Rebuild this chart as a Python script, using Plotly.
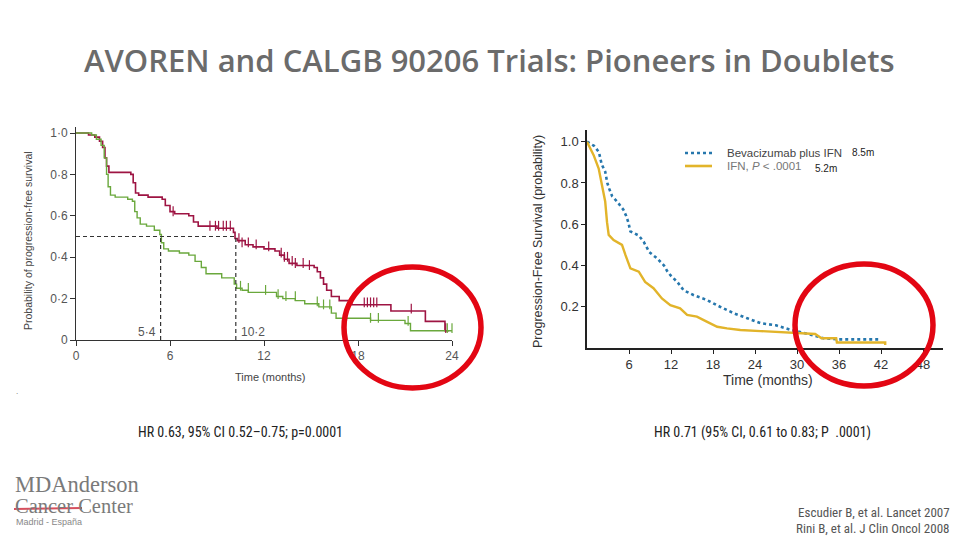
import plotly.graph_objects as go

# page body has an 8px default margin: the figure is sized/placed to fill the 960x540 window
OFF = 8
W, H = 960 - OFF, 540 - OFF
def px(x): return (x - OFF) / W
def py(y): return 1 - (y - OFF) / H

# ---------------- Data: AVOREN (left) ----------------
bev_avoren_t = [0, 0.8, 1.2, 1.5, 1.7, 1.85, 1.95, 2.1, 3.5, 3.65, 3.8, 4.0, 4.6, 5.5, 5.7, 6.0, 6.3, 7.2, 7.5,
                7.8, 9.0, 10.05, 10.15, 10.3, 10.8, 11.3, 12.0, 12.7, 13.0, 13.3, 13.6, 14.1, 15.2, 15.4, 15.6,
                15.8, 16.0, 16.3, 16.8, 17.6, 20.1, 22.3, 23.55, 23.8]
bev_avoren_p = [1.0, 0.99, 0.98, 0.96, 0.93, 0.88, 0.84, 0.81, 0.80, 0.76, 0.71, 0.70, 0.69, 0.68, 0.65, 0.62, 0.61,
                0.60, 0.57, 0.55, 0.54, 0.52, 0.49, 0.48, 0.46, 0.45, 0.44, 0.43, 0.41, 0.39, 0.37, 0.36, 0.35,
                0.33, 0.30, 0.27, 0.24, 0.21, 0.19, 0.17, 0.14, 0.09, 0.045, 0.045]
ifn_avoren_t = [0, 1.0, 1.3, 1.6, 1.8, 1.95, 2.05, 2.2, 2.5, 3.3, 3.6, 3.75, 3.9, 4.1, 4.5, 5.0, 5.35, 5.45, 5.6,
                5.9, 6.6, 7.2, 7.6, 8.0, 8.3, 9.3, 10.1, 10.25, 10.6, 11.0, 12.8, 13.2, 14.0, 14.6, 15.5, 16.3,
                16.6, 18.8, 21.0, 21.35, 24.0]
ifn_avoren_p = [1.0, 0.99, 0.97, 0.94, 0.88, 0.80, 0.74, 0.70, 0.69, 0.68, 0.67, 0.62, 0.59, 0.56, 0.55, 0.53, 0.51,
                0.47, 0.44, 0.43, 0.42, 0.41, 0.38, 0.35, 0.32, 0.30, 0.27, 0.25, 0.24, 0.23, 0.21, 0.20, 0.19,
                0.175, 0.16, 0.13, 0.105, 0.095, 0.08, 0.045, 0.045]
bev_avoren_cens_t = [6.2, 8.55, 8.9, 9.1, 9.4, 9.6, 9.85, 10.4, 10.6, 11.0, 11.5, 12.3, 13.1, 13.3, 13.5, 13.8, 14.0,
                     14.5, 14.9, 18.4, 18.6, 18.8, 19.0, 19.2, 21.4, 23.6]
bev_avoren_cens_p = [0.61, 0.54, 0.54, 0.54, 0.54, 0.54, 0.54, 0.48, 0.46, 0.46, 0.45, 0.44, 0.41, 0.39, 0.39, 0.37,
                     0.36, 0.36, 0.35, 0.17, 0.17, 0.17, 0.17, 0.17, 0.14, 0.045]
ifn_avoren_cens_t = [10.5, 11.0, 12.1, 12.9, 13.4, 14.0, 15.4, 15.8, 16.2, 18.8, 19.3, 21.2, 23.7, 24.0]
ifn_avoren_cens_p = [0.25, 0.24, 0.23, 0.21, 0.20, 0.20, 0.175, 0.16, 0.16, 0.095, 0.095, 0.08, 0.045, 0.045]
medians = [5.4, 10.2]
median_labels = ["5·4", "10·2"]

# ---------------- Data: CALGB 90206 (right) ----------------
bev_calgb_t = [0, 0.5, 1.0, 1.7, 2.1, 2.6, 2.9, 3.2, 3.6, 4.3, 5.2, 5.6, 5.9, 6.2, 6.7, 7.4, 8.1, 8.5, 8.9, 10.0,
               11.0, 11.5, 12.0, 12.9, 13.8, 15.2, 17.1, 19.0, 21.0, 22.9, 24.8, 27.0, 29.2, 31.6, 33.8, 35.9, 41.6]
bev_calgb_p = [1.0, 0.99, 0.98, 0.95, 0.89, 0.855, 0.80, 0.77, 0.735, 0.71, 0.67, 0.64, 0.61, 0.565, 0.555, 0.545,
               0.515, 0.49, 0.465, 0.435, 0.40, 0.37, 0.35, 0.32, 0.28, 0.257, 0.233, 0.20, 0.168, 0.144, 0.12,
               0.11, 0.087, 0.068, 0.047, 0.042, 0.042]
ifn_calgb_t = [0, 0.95, 1.67, 2.14, 2.6, 2.86, 3.1, 3.8, 5.0, 5.5, 6.2, 7.4, 8.3, 9.5, 10.7, 11.9, 13.3, 14.3, 15.7,
               17.1, 18.6, 20.0, 21.9, 24.8, 28.8, 32.6, 33.5, 35.6, 35.7, 42.6, 42.6]
ifn_calgb_p = [1.0, 0.935, 0.87, 0.79, 0.71, 0.61, 0.548, 0.523, 0.50, 0.45, 0.386, 0.37, 0.32, 0.29, 0.24, 0.208,
               0.192, 0.16, 0.152, 0.128, 0.103, 0.095, 0.087, 0.082, 0.074, 0.068, 0.047, 0.047, 0.027, 0.027, 0.015]
right_series_names = ["Bevacizumab plus IFN", "IFN, <i>P</i> < .0001"]
right_medians = ["8.5m", "5.2m"]

left_xticks = [0, 6, 12, 18, 24]
left_yticks = [0, 0.2, 0.4, 0.6, 0.8, 1.0]
left_yticktext = ["0", "0·2", "0·4", "0·6", "0·8", "1·0"]
right_xticks = [6, 12, 18, 24, 30, 36, 42, 48]
right_yticks = [0.2, 0.4, 0.6, 0.8, 1.0]
right_yticktext = ["0.2", "0.4", "0.6", "0.8", "1.0"]

RED = "#9e1443"
GREEN = "#6aa83c"
BLUE = "#2677ad"
YELLOW = "#e2b42a"

fig = go.Figure()

# Left KM
fig.add_trace(go.Scatter(x=bev_avoren_t, y=bev_avoren_p, mode="lines", line=dict(color=RED, width=1.6, shape="hv"),
                         xaxis="x", yaxis="y", showlegend=False, cliponaxis=False))
fig.add_trace(go.Scatter(x=ifn_avoren_t, y=ifn_avoren_p, mode="lines", line=dict(color=GREEN, width=1.4, shape="hv"),
                         xaxis="x", yaxis="y", showlegend=False, cliponaxis=False))
fig.add_trace(go.Scatter(x=bev_avoren_cens_t, y=[p + 0.012 for p in bev_avoren_cens_p], mode="markers",
                         marker=dict(symbol="line-ns", size=7, line=dict(color=RED, width=1.2)),
                         xaxis="x", yaxis="y", showlegend=False, cliponaxis=False))
fig.add_trace(go.Scatter(x=ifn_avoren_cens_t, y=[p + 0.012 for p in ifn_avoren_cens_p], mode="markers",
                         marker=dict(symbol="line-ns", size=7, line=dict(color=GREEN, width=1.2)),
                         xaxis="x", yaxis="y", showlegend=False, cliponaxis=False))
# median dashed lines
fig.add_trace(go.Scatter(x=[0, medians[1]], y=[0.5, 0.5], mode="lines",
                         line=dict(color="#333", width=1.2, dash="4px,3px"), xaxis="x", yaxis="y", showlegend=False))
for m in medians:
    fig.add_trace(go.Scatter(x=[m, m], y=[0, 0.5], mode="lines",
                             line=dict(color="#333", width=1.2, dash="4px,3px"), xaxis="x", yaxis="y", showlegend=False))

# Right KM
fig.add_trace(go.Scatter(x=bev_calgb_t, y=bev_calgb_p, mode="lines", name=right_series_names[0],
                         line=dict(color=BLUE, width=2.6, dash="dot"), xaxis="x2", yaxis="y2", cliponaxis=False,
                         showlegend=False))
fig.add_trace(go.Scatter(x=ifn_calgb_t, y=ifn_calgb_p, mode="lines", name=right_series_names[1],
                         line=dict(color=YELLOW, width=2.4), xaxis="x2", yaxis="y2", cliponaxis=False,
                         showlegend=False))

tickfont_l = dict(family="Liberation Sans, Arial", size=12, color="#555")
tickfont_r = dict(family="Liberation Sans, Arial", size=13, color="#333")

fig.update_layout(
    width=W, height=H, margin=dict(l=0, r=0, t=0, b=0, autoexpand=False),
    paper_bgcolor="white", plot_bgcolor="white", showlegend=False,
    xaxis=dict(domain=[px(76), px(452)], range=[0, 24], tickvals=left_xticks, ticks="outside", ticklen=5,
               tickcolor="#333", showline=True, linecolor="#333", linewidth=1, showgrid=False, zeroline=False,
               tickfont=tickfont_l, anchor="y", automargin=False),
    yaxis=dict(domain=[py(340), py(127)], range=[0, (340 - 127) / 207], tickvals=left_yticks, ticktext=left_yticktext,
               ticks="outside", ticklen=5, tickcolor="#333", showline=True, linecolor="#333", linewidth=1,
               showgrid=False, zeroline=False, tickfont=tickfont_l, anchor="x", automargin=False),
    xaxis2=dict(domain=[px(587), px(943)], range=[0, (943 - 587) / 7.0], tickvals=right_xticks, ticks="outside",
                ticklen=4, tickcolor="#222", showline=True, linecolor="#222", linewidth=1.5, showgrid=False,
                zeroline=False, tickfont=tickfont_r, anchor="y2", automargin=False),
    yaxis2=dict(domain=[py(348), py(130)], range=[0, (348 - 130) / 206.3], tickvals=right_yticks,
                ticktext=right_yticktext, ticks="outside", ticklen=4, tickcolor="#222", showline=True,
                linecolor="#222", linewidth=1.5, showgrid=False, zeroline=False, tickfont=tickfont_r, anchor="x2",
                automargin=False),
)

ann = []
def text(x, y, s, size, color="#444", family="Liberation Sans, Arial", xanchor="center", angle=0, weight=None):
    f = dict(family=family, size=size, color=color)
    if weight:
        f["weight"] = weight
    ann.append(dict(x=px(x), y=py(y), xref="paper", yref="paper", text=s, showarrow=False, font=f,
                    xanchor=xanchor, yanchor="middle", textangle=angle))

text(489, 60, "AVOREN and CALGB 90206 Trials: Pioneers in Doublets", 31, "#6b6b6b", "Open Sans, Lato", weight=600)
# left chart labels
text(28, 241, "Probability of progression-free survival", 10.5, "#444", angle=-90)
text(270, 377, "Time (months)", 11, "#444")
ann.append(dict(x=medians[0], y=0.04, xref="x", yref="y", text=median_labels[0], showarrow=False,
                font=dict(family="Liberation Sans, Arial", size=12, color="#555"), xanchor="right", xshift=-3))
ann.append(dict(x=medians[1], y=0.04, xref="x", yref="y", text=median_labels[1], showarrow=False,
                font=dict(family="Liberation Sans, Arial", size=12, color="#555"), xanchor="left", xshift=3))
# right chart labels
text(538, 242, "Progression-Free Survival (probability)", 12.5, "#333", angle=-90)
text(768, 380, "Time (months)", 14, "#333")
# manual legend
text(725, 153, right_series_names[0], 11.5, "#444", xanchor="left")
text(725, 166, right_series_names[1], 11.5, "#777", xanchor="left")
text(863, 152, right_medians[0], 10, "#222")
text(826, 168, right_medians[1], 10, "#222")
# HR texts
NARROW = "Liberation Sans Narrow, Arial Narrow, Roboto Condensed, Open Sans"
text(240, 432, "HR 0.63, 95% CI 0.52–0.75; p=0.0001", 14, "#222", NARROW)
text(762, 432, "HR 0.71 (95% CI, 0.61 to 0.83; P  .0001)", 14, "#222", NARROW)
# citations
text(952, 512, "Escudier B, et al. Lancet 2007", 13, "#555", NARROW, xanchor="right")
text(952, 528, "Rini B, et al. J Clin Oncol 2008", 13, "#555", NARROW, xanchor="right")
# logo
text(13, 484, "MDAnderson", 22.5, "#7a7a7a", "Liberation Serif, DejaVu Serif", xanchor="left")
text(13, 506, "Cancer Center", 20.5, "#7a7a7a", "Liberation Serif, DejaVu Serif", xanchor="left")
text(14, 522, "Madrid - España", 9, "#888", xanchor="left")
text(17, 391, ".", 8, "#666")

shapes = [
    # legend samples
    dict(type="line", xref="paper", yref="paper", x0=px(685), x1=px(712), y0=py(153), y1=py(153),
         line=dict(color=BLUE, width=2.6, dash="dot")),
    dict(type="line", xref="paper", yref="paper", x0=px(685), x1=px(712), y0=py(166), y1=py(166),
         line=dict(color=YELLOW, width=2.6)),
    # red highlight circles
    dict(type="circle", xref="paper", yref="paper", x0=px(344), x1=px(481), y0=py(388), y1=py(267),
         line=dict(color="#e30613", width=5.5), layer="above"),
    dict(type="circle", xref="paper", yref="paper", x0=px(795), x1=px(933), y0=py(386), y1=py(264),
         line=dict(color="#e30613", width=5.5), layer="above"),
    # logo strike line
    dict(type="line", xref="paper", yref="paper", x0=px(14), x1=px(82), y0=py(509), y1=py(508),
         line=dict(color="#d6505e", width=2)),
]
fig.update_layout(annotations=ann, shapes=shapes)
fig.write_html("out.html")
